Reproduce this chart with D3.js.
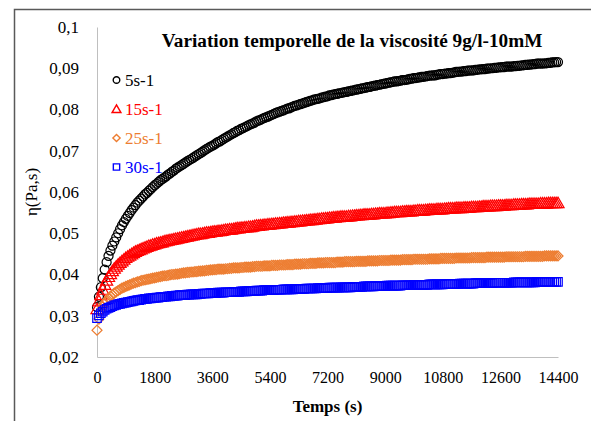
<!DOCTYPE html>
<html>
<head>
<meta charset="utf-8">
<script src="https://cdn.jsdelivr.net/npm/d3@7"></script>
<style>
  html, body { margin: 0; padding: 0; background: #fff; }
  svg { display: block; }
</style>
</head>
<body>
<svg id="chart" width="591" height="421"></svg>
<script>
const FONT = "'Liberation Serif', 'Times New Roman', serif";

// Sampling times (s), one measurement per minute
const times = [
0,60,120,180,240,300,360,420,480,540,600,660,720,780,840,900,960,1020,1080,1140,
1200,1260,1320,1380,1440,1500,1560,1620,1680,1740,1800,1860,1920,1980,2040,2100,2160,2220,2280,2340,
2400,2460,2520,2580,2640,2700,2760,2820,2880,2940,3000,3060,3120,3180,3240,3300,3360,3420,3480,3540,
3600,3660,3720,3780,3840,3900,3960,4020,4080,4140,4200,4260,4320,4380,4440,4500,4560,4620,4680,4740,
4800,4860,4920,4980,5040,5100,5160,5220,5280,5340,5400,5460,5520,5580,5640,5700,5760,5820,5880,5940,
6000,6060,6120,6180,6240,6300,6360,6420,6480,6540,6600,6660,6720,6780,6840,6900,6960,7020,7080,7140,
7200,7260,7320,7380,7440,7500,7560,7620,7680,7740,7800,7860,7920,7980,8040,8100,8160,8220,8280,8340,
8400,8460,8520,8580,8640,8700,8760,8820,8880,8940,9000,9060,9120,9180,9240,9300,9360,9420,9480,9540,
9600,9660,9720,9780,9840,9900,9960,10020,10080,10140,10200,10260,10320,10380,10440,10500,10560,10620,10680,10740,
10800,10860,10920,10980,11040,11100,11160,11220,11280,11340,11400,11460,11520,11580,11640,11700,11760,11820,11880,11940,
12000,12060,12120,12180,12240,12300,12360,12420,12480,12540,12600,12660,12720,12780,12840,12900,12960,13020,13080,13140,
13200,13260,13320,13380,13440,13500,13560,13620,13680,13740,13800,13860,13920,13980,14040,14100,14160,14220,14280,14340,
14400];

// Viscosity η (Pa.s), shear rate 5 s-1
const eta5 = [
.0321,.0346,.0369,.0391,.0412,.0430,.0445,.0458,.0470,.0480,.0490,.0500,.0510,.0519,.0527,.0535,.0542,.0549,.0556,.0562,
.0568,.0574,.0579,.0584,.0589,.0594,.0598,.0603,.0607,.0612,.0616,.0620,.0624,.0628,.0631,.0635,.0638,.0642,.0645,.0649,
.0652,.0656,.0659,.0662,.0665,.0668,.0671,.0674,.0677,.0680,.0683,.0686,.0689,.0692,.0695,.0698,.0701,.0704,.0707,.0710,
.0712,.0715,.0718,.0721,.0723,.0726,.0729,.0732,.0734,.0737,.0740,.0743,.0745,.0748,.0750,.0753,.0755,.0757,.0759,.0762,
.0764,.0766,.0768,.0771,.0773,.0775,.0777,.0779,.0781,.0783,.0785,.0787,.0789,.0791,.0793,.0795,.0796,.0798,.0800,.0802,
.0803,.0805,.0807,.0809,.0810,.0812,.0813,.0815,.0816,.0818,.0819,.0821,.0822,.0824,.0825,.0826,.0827,.0829,.0830,.0831,
.0832,.0834,.0835,.0836,.0837,.0838,.0839,.0840,.0841,.0842,.0843,.0844,.0845,.0846,.0847,.0848,.0849,.0850,.0851,.0852,
.0853,.0854,.0855,.0856,.0857,.0858,.0859,.0860,.0861,.0862,.0863,.0864,.0865,.0866,.0867,.0868,.0868,.0869,.0870,.0871,
.0871,.0872,.0873,.0874,.0875,.0876,.0876,.0877,.0878,.0879,.0879,.0880,.0881,.0882,.0882,.0883,.0883,.0884,.0885,.0886,
.0886,.0887,.0887,.0888,.0888,.0889,.0890,.0891,.0891,.0892,.0892,.0893,.0893,.0894,.0894,.0895,.0895,.0896,.0896,.0897,
.0897,.0898,.0898,.0899,.0899,.0900,.0900,.0901,.0901,.0902,.0902,.0903,.0903,.0904,.0904,.0904,.0904,.0905,.0905,.0906,
.0906,.0907,.0907,.0908,.0908,.0909,.0909,.0910,.0910,.0911,.0911,.0911,.0911,.0912,.0912,.0913,.0913,.0914,.0914,.0915,
.0915];

// shear rate 15 s-1
const eta15 = [
.0316,.0335,.0350,.0363,.0375,.0385,.0394,.0401,.0408,.0414,.0419,.0424,.0428,.0432,.0436,.0440,.0443,.0446,.0449,.0452,
.0455,.0457,.0459,.0461,.0463,.0465,.0467,.0469,.0470,.0472,.0473,.0475,.0476,.0477,.0478,.0480,.0481,.0482,.0483,.0484,
.0485,.0486,.0487,.0488,.0489,.0490,.0491,.0492,.0493,.0494,.0495,.0496,.0497,.0498,.0498,.0499,.0500,.0501,.0501,.0502,
.0503,.0504,.0504,.0505,.0505,.0506,.0507,.0508,.0508,.0509,.0509,.0510,.0511,.0512,.0512,.0513,.0513,.0514,.0514,.0515,
.0515,.0516,.0517,.0518,.0518,.0519,.0519,.0520,.0520,.0521,.0521,.0522,.0522,.0523,.0523,.0524,.0524,.0525,.0525,.0526,
.0526,.0527,.0527,.0528,.0528,.0529,.0529,.0530,.0530,.0531,.0531,.0532,.0532,.0533,.0533,.0534,.0534,.0535,.0535,.0536,
.0536,.0537,.0537,.0538,.0538,.0539,.0539,.0540,.0540,.0540,.0540,.0541,.0541,.0542,.0542,.0543,.0543,.0544,.0544,.0545,
.0545,.0545,.0545,.0546,.0546,.0547,.0547,.0548,.0548,.0548,.0548,.0549,.0549,.0550,.0550,.0551,.0551,.0551,.0551,.0552,
.0552,.0553,.0553,.0553,.0553,.0554,.0554,.0555,.0555,.0555,.0555,.0556,.0556,.0557,.0557,.0557,.0557,.0558,.0558,.0558,
.0558,.0559,.0559,.0560,.0560,.0560,.0560,.0561,.0561,.0561,.0561,.0562,.0562,.0562,.0562,.0563,.0563,.0563,.0563,.0564,
.0564,.0565,.0565,.0565,.0565,.0566,.0566,.0566,.0566,.0567,.0567,.0567,.0567,.0568,.0568,.0568,.0568,.0569,.0569,.0569,
.0569,.0570,.0570,.0570,.0570,.0571,.0571,.0571,.0571,.0571,.0571,.0572,.0572,.0572,.0572,.0573,.0573,.0573,.0573,.0573,
.0573];

// shear rate 25 s-1
const eta25 = [
.0265,.0292,.0312,.0322,.0330,.0336,.0342,.0347,.0351,.0355,.0358,.0361,.0364,.0367,.0369,.0371,.0373,.0375,.0377,.0379,
.0380,.0382,.0383,.0385,.0386,.0387,.0388,.0389,.0390,.0391,.0392,.0393,.0394,.0395,.0396,.0397,.0397,.0398,.0399,.0400,
.0400,.0401,.0401,.0402,.0403,.0404,.0404,.0405,.0405,.0406,.0406,.0407,.0407,.0408,.0408,.0409,.0409,.0410,.0410,.0411,
.0411,.0412,.0412,.0413,.0413,.0413,.0413,.0414,.0414,.0415,.0415,.0416,.0416,.0416,.0416,.0417,.0417,.0418,.0418,.0418,
.0418,.0419,.0419,.0420,.0420,.0420,.0420,.0421,.0421,.0421,.0421,.0422,.0422,.0422,.0422,.0423,.0423,.0423,.0423,.0424,
.0424,.0424,.0424,.0425,.0425,.0425,.0425,.0426,.0426,.0426,.0426,.0427,.0427,.0427,.0427,.0428,.0428,.0428,.0428,.0429,
.0429,.0429,.0429,.0429,.0429,.0430,.0430,.0430,.0430,.0431,.0431,.0431,.0431,.0431,.0431,.0432,.0432,.0432,.0432,.0432,
.0432,.0433,.0433,.0433,.0433,.0433,.0433,.0434,.0434,.0434,.0434,.0434,.0434,.0435,.0435,.0435,.0435,.0435,.0435,.0436,
.0436,.0436,.0436,.0436,.0436,.0437,.0437,.0437,.0437,.0437,.0437,.0437,.0437,.0438,.0438,.0438,.0438,.0438,.0438,.0439,
.0439,.0439,.0439,.0439,.0439,.0439,.0439,.0440,.0440,.0440,.0440,.0440,.0440,.0440,.0440,.0441,.0441,.0441,.0441,.0441,
.0441,.0441,.0441,.0442,.0442,.0442,.0442,.0442,.0442,.0442,.0442,.0442,.0442,.0443,.0443,.0443,.0443,.0443,.0443,.0443,
.0443,.0443,.0443,.0444,.0444,.0444,.0444,.0444,.0444,.0444,.0444,.0444,.0444,.0445,.0445,.0445,.0445,.0445,.0445,.0445,
.0445];

// shear rate 30 s-1
const eta30 = [
.0294,.0301,.0306,.0310,.0314,.0317,.0319,.0321,.0323,.0325,.0326,.0328,.0329,.0330,.0331,.0332,.0333,.0334,.0335,.0336,
.0337,.0338,.0338,.0339,.0340,.0341,.0341,.0342,.0342,.0343,.0343,.0344,.0344,.0345,.0345,.0346,.0346,.0347,.0347,.0348,
.0348,.0349,.0349,.0350,.0350,.0350,.0350,.0351,.0351,.0352,.0352,.0352,.0352,.0353,.0353,.0354,.0354,.0354,.0354,.0355,
.0355,.0355,.0355,.0356,.0356,.0356,.0356,.0357,.0357,.0357,.0357,.0358,.0358,.0358,.0358,.0359,.0359,.0359,.0359,.0360,
.0360,.0360,.0360,.0361,.0361,.0361,.0361,.0362,.0362,.0362,.0362,.0362,.0362,.0363,.0363,.0363,.0363,.0364,.0364,.0364,
.0364,.0364,.0364,.0365,.0365,.0365,.0365,.0365,.0365,.0366,.0366,.0366,.0366,.0366,.0366,.0367,.0367,.0367,.0367,.0367,
.0367,.0368,.0368,.0368,.0368,.0368,.0368,.0369,.0369,.0369,.0369,.0369,.0369,.0370,.0370,.0370,.0370,.0370,.0370,.0371,
.0371,.0371,.0371,.0371,.0371,.0372,.0372,.0372,.0372,.0372,.0372,.0373,.0373,.0373,.0373,.0373,.0373,.0373,.0373,.0374,
.0374,.0374,.0374,.0374,.0374,.0375,.0375,.0375,.0375,.0375,.0375,.0375,.0375,.0376,.0376,.0376,.0376,.0376,.0376,.0376,
.0376,.0377,.0377,.0377,.0377,.0377,.0377,.0377,.0377,.0378,.0378,.0378,.0378,.0378,.0378,.0378,.0378,.0379,.0379,.0379,
.0379,.0379,.0379,.0379,.0379,.0379,.0379,.0380,.0380,.0380,.0380,.0380,.0380,.0380,.0380,.0380,.0380,.0381,.0381,.0381,
.0381,.0381,.0381,.0381,.0381,.0381,.0381,.0381,.0381,.0382,.0382,.0382,.0382,.0382,.0382,.0382,.0382,.0382,.0382,.0382,
.0382];

const seriesNames = ["5s-1", "15s-1", "25s-1", "30s-1"];
const seriesValues = [eta5, eta15, eta25, eta30];
const seriesColors = ["#000000", "#ff0000", "#ed7d31", "#0000ff"];
const seriesShapes = ["circle", "triangle", "diamond", "square"];

const xTicks = [0, 1800, 3600, 5400, 7200, 9000, 10800, 12600, 14400];
const yTicks = [0.02, 0.03, 0.04, 0.05, 0.06, 0.07, 0.08, 0.09, 0.1];
const yTickLabels = ["0,02", "0,03", "0,04", "0,05", "0,06", "0,07", "0,08", "0,09", "0,1"];

const titleText = "Variation temporelle de la viscosité 9g/l-10mM";
const xTitle = "Temps (s)";
const yTitle = "η(Pa,s)";

const svg = d3.select("#chart");
const W = 591, H = 421;
const plot = { left: 97, right: 558, top: 27, bottom: 357 };

// outer chart frame (runs off the right and bottom edges)
svg.append("rect")
  .attr("x", 14.5).attr("y", 9.5)
  .attr("width", W + 10).attr("height", H + 10)
  .attr("fill", "#fff").attr("stroke", "#595959").attr("stroke-width", 1.5);

const x = d3.scaleLinear().domain([0, 14400]).range([plot.left, plot.right]);
const y = d3.scaleLinear().domain([0.02, 0.1]).range([plot.bottom, plot.top]);

// axes
const yAxis = d3.axisLeft(y).tickValues(yTicks).tickSize(0).tickPadding(18)
  .tickFormat((d, i) => yTickLabels[i]);
const gy = svg.append("g").attr("transform", `translate(${plot.left},0)`).call(yAxis);
gy.attr("font-family", null);
gy.select(".domain").attr("stroke", "#bfbfbf").attr("stroke-width", 1);
gy.selectAll("text").style("font-family", FONT).style("font-size", "17px").attr("fill", "#000");

const xAxis = d3.axisBottom(x).tickValues(xTicks).tickSize(0).tickPadding(15)
  .tickFormat(d3.format("d"));
const gx = svg.append("g").attr("transform", `translate(0,${plot.bottom})`).call(xAxis);
gx.attr("font-family", null);
gx.select(".domain").attr("stroke", "#bfbfbf").attr("stroke-width", 1);
gx.selectAll("text").style("font-family", FONT).style("font-size", "16px").attr("fill", "#000");

// marker shapes
const symbolTypes = { circle: d3.symbolCircle, triangle: d3.symbolTriangle, diamond: d3.symbolSquare, square: d3.symbolSquare };
const markerArea = { circle: 64, triangle: 64, diamond: 50, square: 72 };
function symbolTransform(shape, px, py) {
  if (shape === "diamond") return `translate(${px},${py}) rotate(45)`;
  if (shape === "triangle") return `translate(${px},${py + 1})`;
  return `translate(${px},${py})`;
}

// series markers, drawn in legend order
seriesValues.forEach((vals, s) => {
  const shape = seriesShapes[s];
  const path = d3.symbol(symbolTypes[shape], markerArea[shape])();
  svg.append("g").selectAll("path")
    .data(times.map((t, i) => ({ t, v: vals[i] })).filter(d => d.v != null))
    .join("path")
    .attr("d", path)
    .attr("transform", d => symbolTransform(shape, x(d.t), y(d.v)))
    .attr("fill", "none")
    .attr("stroke", seriesColors[s])
    .attr("stroke-width", 1.2);
});

// legend
const legendY = [80, 109, 138, 167];
const legendArea = { circle: 34, triangle: 34, diamond: 26, square: 40 };
seriesNames.forEach((name, s) => {
  const shape = seriesShapes[s];
  svg.append("path")
    .attr("d", d3.symbol(symbolTypes[shape], legendArea[shape])())
    .attr("transform", symbolTransform(shape, 116.5, legendY[s]))
    .attr("fill", "none").attr("stroke", seriesColors[s]).attr("stroke-width", 1.4);
  svg.append("text")
    .attr("x", 125).attr("y", legendY[s] + 5.5)
    .style("font-family", FONT).style("font-size", "17px")
    .attr("fill", seriesColors[s])
    .text(name);
});

// title, sized to span its slot
const title = svg.append("text")
  .attr("x", 352).attr("y", 47)
  .attr("text-anchor", "middle")
  .style("font-family", FONT).style("font-weight", "bold").style("font-size", "16px")
  .text(titleText);
const tw = title.node().getComputedTextLength();
title.style("font-size", (16 * 381 / tw) + "px");

// axis titles
svg.append("text")
  .attr("x", (plot.left + plot.right) / 2).attr("y", 412)
  .attr("text-anchor", "middle")
  .style("font-family", FONT).style("font-weight", "bold").style("font-size", "17px")
  .text(xTitle);

svg.append("text")
  .attr("transform", "translate(37,192) rotate(-90)")
  .attr("text-anchor", "middle")
  .style("font-family", FONT).style("font-size", "17px")
  .text(yTitle);
</script>
</body>
</html>
